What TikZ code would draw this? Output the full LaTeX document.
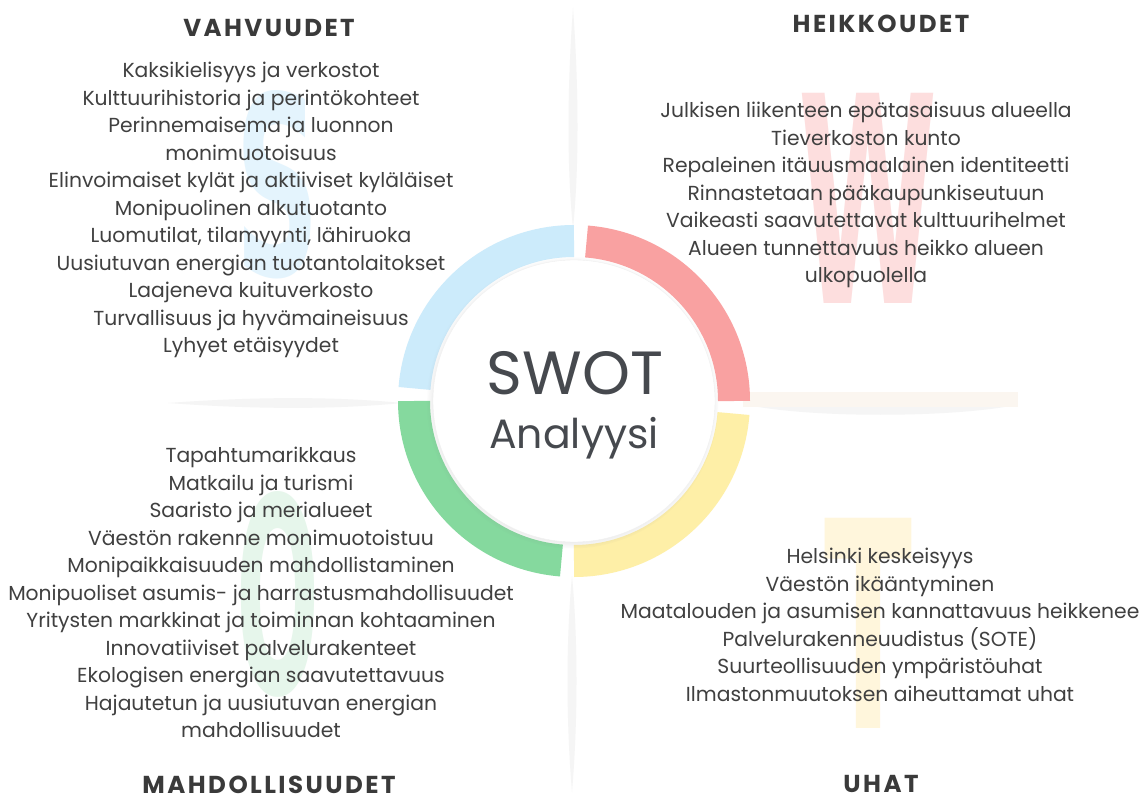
\documentclass[tikz,border=0pt]{standalone}
\usepackage{fontspec}
\usepackage{graphicx}
\setmainfont{Poppins}
\newfontfamily\headfont[LetterSpace=10]{Poppins}
\newfontfamily\letterfont{DejaVu Sans}
\usetikzlibrary{shadows}

\definecolor{txt}{HTML}{404040}
\definecolor{head}{HTML}{3A3A3A}
\definecolor{swot}{HTML}{46494E}
\definecolor{sBlue}{HTML}{CCEBFB}
\definecolor{wRed}{HTML}{F9A1A1}
\definecolor{oGreen}{HTML}{85D99E}
\definecolor{tYellow}{HTML}{FEEFA7}
\definecolor{sFaint}{HTML}{E4F4FD}
\definecolor{wFaint}{HTML}{FDDEDE}
\definecolor{oFaint}{HTML}{E6F6EB}
\definecolor{tFaint}{HTML}{FFF6DC}
\definecolor{hazeGray}{HTML}{F5F5F5}
\definecolor{barBeige}{HTML}{FBF6F0}

\tikzset{
  items/.style={align=center, anchor=north, text=txt, inner sep=0pt,
    font=\fontsize{20.3}{27.5}\selectfont},
  heading/.style={anchor=base, text=head, inner sep=0pt,
    font=\headfont\bfseries\fontsize{24.5}{26}\selectfont},
  ring/.style={line width=32pt, line cap=butt},
  haze/.style={fill=hazeGray},
  bigletter/.style={inner sep=0pt, font=\letterfont\bfseries},
}

\begin{document}
\begin{tikzpicture}[x=1pt,y=1pt]
    \fill[white] (0,0) rectangle (1141,-794);
    \useasboundingbox (0,0) rectangle (1141,-794);

    % faint cross in the background
    \fill[haze] (573,-8) .. controls (579,-90) and (579,-170) .. (573,-228) .. controls (567,-170) and (567,-90) .. (573,-8);
    \fill[haze] (572,-576) .. controls (578,-640) and (578,-720) .. (572,-792) .. controls (566,-720) and (566,-640) .. (572,-576);
    \fill[haze] (168,-403) .. controls (250,-397) and (330,-396) .. (402,-403) .. controls (330,-410) and (250,-409) .. (168,-403);
    \fill[haze] (748,-405) .. controls (810,-418) and (950,-418) .. (1016,-405) -- cycle;
    \fill[barBeige] (743,-392) rectangle (1018,-407);

    % big letters
    \node[bigletter, text=sFaint] (bigS) at (278,-184.5) {\resizebox{84pt}{185pt}{S}};
    \node[bigletter, text=wFaint] (bigW) at (868,-198) {\resizebox{139pt}{210pt}{W}};
    \node[bigletter, text=oFaint] (bigO) at (278,-594) {\resizebox{83pt}{202pt}{O}};
    \node[bigletter, text=tFaint] (bigT) at (868,-623) {\resizebox{88pt}{210pt}{T}};

    % ring
    \coordinate (c) at (574,-401);
    \draw[ring, wRed] ([shift={(0:160)}]c) arc[start angle=0, end angle=85.5, radius=160];
    \draw[ring, sBlue] ([shift={(90:160)}]c) arc[start angle=90, end angle=175.5, radius=160];
    \draw[ring, oGreen] ([shift={(180:160)}]c) arc[start angle=180, end angle=265.5, radius=160];
    \draw[ring, tYellow] ([shift={(270:160)}]c) arc[start angle=270, end angle=355.5, radius=160];
    \node[circle, fill=white, draw=black!6, minimum size=282pt, inner sep=0pt,
      circular drop shadow={shadow xshift=-1.5pt, shadow yshift=-1.5pt, shadow scale=1.035, opacity=0.4}] (core) at (c) {};
    \node[inner sep=0pt, text=swot, font=\fontsize{61}{64}\selectfont] (swot) at (575,-373) {SWOT};
    \node[inner sep=0pt, anchor=base, text=swot, font=\fontsize{41}{44}\selectfont] (analyysi) at (574,-448) {Analyysi};

    % headings
    \node[heading] (vahvT) at (269,-37) {VAHVUUDET};
    \node[heading] (heikT) at (881,-33) {HEIKKOUDET};
    \node[heading] (mahdT) at (269,-793) {MAHDOLLISUUDET};
    \node[heading] (uhatT) at (881,-792) {UHAT};

    % lists
    \node[items] (vahv) at (251,-62) {Kaksikielisyys ja verkostot\\Kulttuurihistoria ja perintökohteet\\Perinnemaisema ja luonnon\\monimuotoisuus\\Elinvoimaiset kylät ja aktiiviset kyläläiset\\Monipuolinen alkutuotanto\\Luomutilat, tilamyynti, lähiruoka\\Uusiutuvan energian tuotantolaitokset\\Laajeneva kuituverkosto\\Turvallisuus ja hyvämaineisuus\\Lyhyet etäisyydet};
    \node[items] (heik) at (866,-102) {Julkisen liikenteen epätasaisuus alueella\\Tieverkoston kunto\\Repaleinen itäuusmaalainen identiteetti\\Rinnastetaan pääkaupunkiseutuun\\Vaikeasti saavutettavat kulttuurihelmet\\Alueen tunnettavuus heikko alueen\\ulkopuolella};
    \node[items] (mahd) at (261,-447) {Tapahtumarikkaus\\Matkailu ja turismi\\Saaristo ja merialueet\\Väestön rakenne monimuotoistuu\\Monipaikkaisuuden mahdollistaminen\\Monipuoliset asumis- ja harrastusmahdollisuudet\\Yritysten markkinat ja toiminnan kohtaaminen\\Innovatiiviset palvelurakenteet\\Ekologisen energian saavutettavuus\\Hajautetun ja uusiutuvan energian\\mahdollisuudet};
    \node[items] (uhat) at (880,-548) {Helsinki keskeisyys\\Väestön ikääntyminen\\Maatalouden ja asumisen kannattavuus heikkenee\\Palvelurakenneuudistus (SOTE)\\Suurteollisuuden ympäristöuhat\\Ilmastonmuutoksen aiheuttamat uhat};
\end{tikzpicture}
\end{document}
